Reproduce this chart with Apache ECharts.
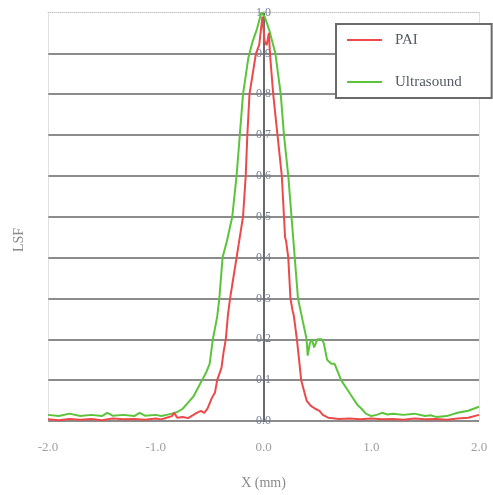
<!DOCTYPE html>
<html>
<head>
<meta charset="utf-8">
<script src="https://cdn.jsdelivr.net/npm/echarts@6/dist/echarts.min.js"></script>
<style>
html,body{margin:0;padding:0;background:#fff;}
#chart{width:493px;height:495px;}
</style>
</head>
<body>
<div id="chart"></div>
<script>
// ---- data ----
var xTicks = ['-2.0', '-1.0', '0.0', '1.0', '2.0'];
var yTicks = ['0.0','0.1','0.2','0.3','0.4','0.5','0.6','0.7','0.8','0.9','1.0'];
var seriesNames = ['PAI', 'Ultrasound'];

var paiX = [-2.0,-1.9,-1.8,-1.7,-1.6,-1.5,-1.4,-1.3,-1.2,-1.1,-1.0,-0.95,-0.9,-0.85,-0.83,-0.8,-0.75,-0.7,-0.65,-0.62,-0.58,-0.55,-0.52,-0.48,-0.45,-0.43,-0.39,-0.37,-0.35,-0.33,-0.31,-0.28,-0.25,-0.22,-0.19,-0.165,-0.15,-0.13,-0.1,-0.07,-0.04,-0.01,0.01,0.03,0.05,0.06,0.09,0.13,0.17,0.19,0.2,0.21,0.23,0.25,0.27,0.28,0.29,0.31,0.33,0.35,0.38,0.4,0.43,0.45,0.48,0.52,0.55,0.6,0.7,0.8,0.9,1.0,1.1,1.2,1.3,1.4,1.5,1.6,1.7,1.8,1.9,2.0];
var paiY = [0.004,0.002,0.005,0.003,0.005,0.002,0.006,0.004,0.005,0.003,0.006,0.004,0.008,0.012,0.02,0.008,0.01,0.007,0.015,0.02,0.025,0.02,0.03,0.056,0.07,0.1,0.13,0.17,0.2,0.26,0.3,0.35,0.4,0.45,0.5,0.6,0.7,0.8,0.85,0.9,0.92,0.99,0.93,0.92,0.95,0.9,0.8,0.7,0.6,0.5,0.45,0.44,0.4,0.3,0.27,0.26,0.24,0.2,0.15,0.1,0.07,0.05,0.04,0.035,0.03,0.025,0.015,0.008,0.005,0.006,0.004,0.006,0.004,0.005,0.003,0.006,0.004,0.005,0.003,0.006,0.008,0.015];

var usX = [-2.0,-1.9,-1.8,-1.7,-1.6,-1.5,-1.45,-1.4,-1.3,-1.2,-1.15,-1.1,-1.0,-0.95,-0.9,-0.85,-0.8,-0.75,-0.7,-0.65,-0.6,-0.57,-0.53,-0.5,-0.47,-0.43,-0.41,-0.38,-0.34,-0.29,-0.25,-0.22,-0.19,-0.14,-0.1,-0.06,-0.02,0.01,0.05,0.11,0.16,0.19,0.23,0.26,0.29,0.32,0.36,0.4,0.41,0.43,0.45,0.47,0.5,0.54,0.56,0.59,0.63,0.66,0.72,0.77,0.82,0.87,0.91,0.95,1.0,1.05,1.1,1.15,1.2,1.3,1.4,1.5,1.55,1.6,1.7,1.8,1.9,2.0];
var usY = [0.015,0.012,0.018,0.012,0.015,0.012,0.02,0.013,0.015,0.012,0.02,0.013,0.015,0.012,0.015,0.018,0.022,0.03,0.045,0.06,0.085,0.1,0.12,0.14,0.2,0.255,0.3,0.4,0.44,0.5,0.6,0.7,0.8,0.89,0.93,0.96,1.0,0.99,0.96,0.9,0.8,0.7,0.6,0.5,0.4,0.3,0.25,0.2,0.16,0.19,0.2,0.18,0.2,0.2,0.19,0.15,0.14,0.14,0.1,0.08,0.06,0.04,0.03,0.018,0.012,0.015,0.02,0.016,0.018,0.015,0.018,0.012,0.014,0.01,0.012,0.02,0.025,0.035];

function pairs(xs, ys){ var out=[]; for (var i=0;i<xs.length;i++) out.push([xs[i], ys[i]]); return out; }

var chart = echarts.init(document.getElementById('chart'), null, {renderer:'canvas'});
var serif = "'Liberation Serif','DejaVu Serif',serif";
var clear = 'rgba(0,0,0,0)';
var gridLeft = 48, gridRight = 14;
var plotW = 493 - gridLeft - gridRight;

chart.setOption({
  animation: false,
  backgroundColor: '#ffffff',
  grid: {left: gridLeft, right: gridRight, top: 12.5, bottom: 70, containLabel: false},
  xAxis: [{
    type: 'value', min: -2, max: 2, interval: 1,
    axisLine: {show: false},
    axisTick: {show: false},
    axisLabel: {color: '#a0a0a0', fontFamily: serif, fontSize: 13, margin: 20,
      formatter: function(v){ return xTicks[Math.round(v + 2)]; }},
    splitLine: {show: true, lineStyle: {color: ['#c4c4c4', clear, clear, clear, '#c4c4c4'], width: 1, type: 'dotted'}},
    name: 'X (mm)', nameLocation: 'middle', nameGap: 55,
    nameTextStyle: {color: '#8a8a8a', fontFamily: serif, fontSize: 14}
  }, {
    type: 'value', min: -2, max: 2, interval: 1, position: 'top',
    axisLine: {show: true, lineStyle: {color: '#c4c4c4', width: 1, type: 'dotted'}},
    axisTick: {show: false}, axisLabel: {show: false}, splitLine: {show: false}
  }],
  yAxis: {
    type: 'value', min: 0, max: 1, interval: 0.1,
    offset: -plotW / 2,
    axisLine: {show: true, onZero: false, lineStyle: {color: '#6a6a6a', width: 2}},
    axisTick: {show: false},
    axisLabel: {color: '#737e95', fontFamily: serif, fontSize: 12, margin: 0, align: 'center',
      formatter: function(v){ return yTicks[Math.round(v * 10)]; }},
    splitLine: {show: true, lineStyle: {color: ['#8c8c8c','#8c8c8c','#8c8c8c','#8c8c8c','#8c8c8c','#8c8c8c','#8c8c8c','#8c8c8c','#8c8c8c','#8c8c8c', clear], width: 2}}
  },
  legend: {
    orient: 'vertical', left: 336, top: 24,
    padding: [7, 30, 7, 11], itemGap: 24, itemWidth: 35, itemHeight: 2, icon: 'rect',
    backgroundColor: '#ffffff', borderColor: '#6a6a6a', borderWidth: 2,
    textStyle: {color: '#555a66', fontFamily: serif, fontSize: 15, lineHeight: 18, padding: [0, 0, 0, 8]},
    data: seriesNames
  },
  graphic: [{
    type: 'text', left: 12, top: 228, rotation: Math.PI / 2,
    style: {text: 'LSF', fill: '#8a8a8a', font: "14px " + serif}
  }],
  series: [{
    name: seriesNames[0], type: 'line', symbol: 'none', z: 3,
    lineStyle: {color: '#ec4a4a', width: 2}, itemStyle: {color: '#ec4a4a'},
    data: pairs(paiX, paiY)
  }, {
    name: seriesNames[1], type: 'line', symbol: 'none', z: 2,
    lineStyle: {color: '#5cc43c', width: 2}, itemStyle: {color: '#5cc43c'},
    data: pairs(usX, usY)
  }]
});
</script>
</body>
</html>
